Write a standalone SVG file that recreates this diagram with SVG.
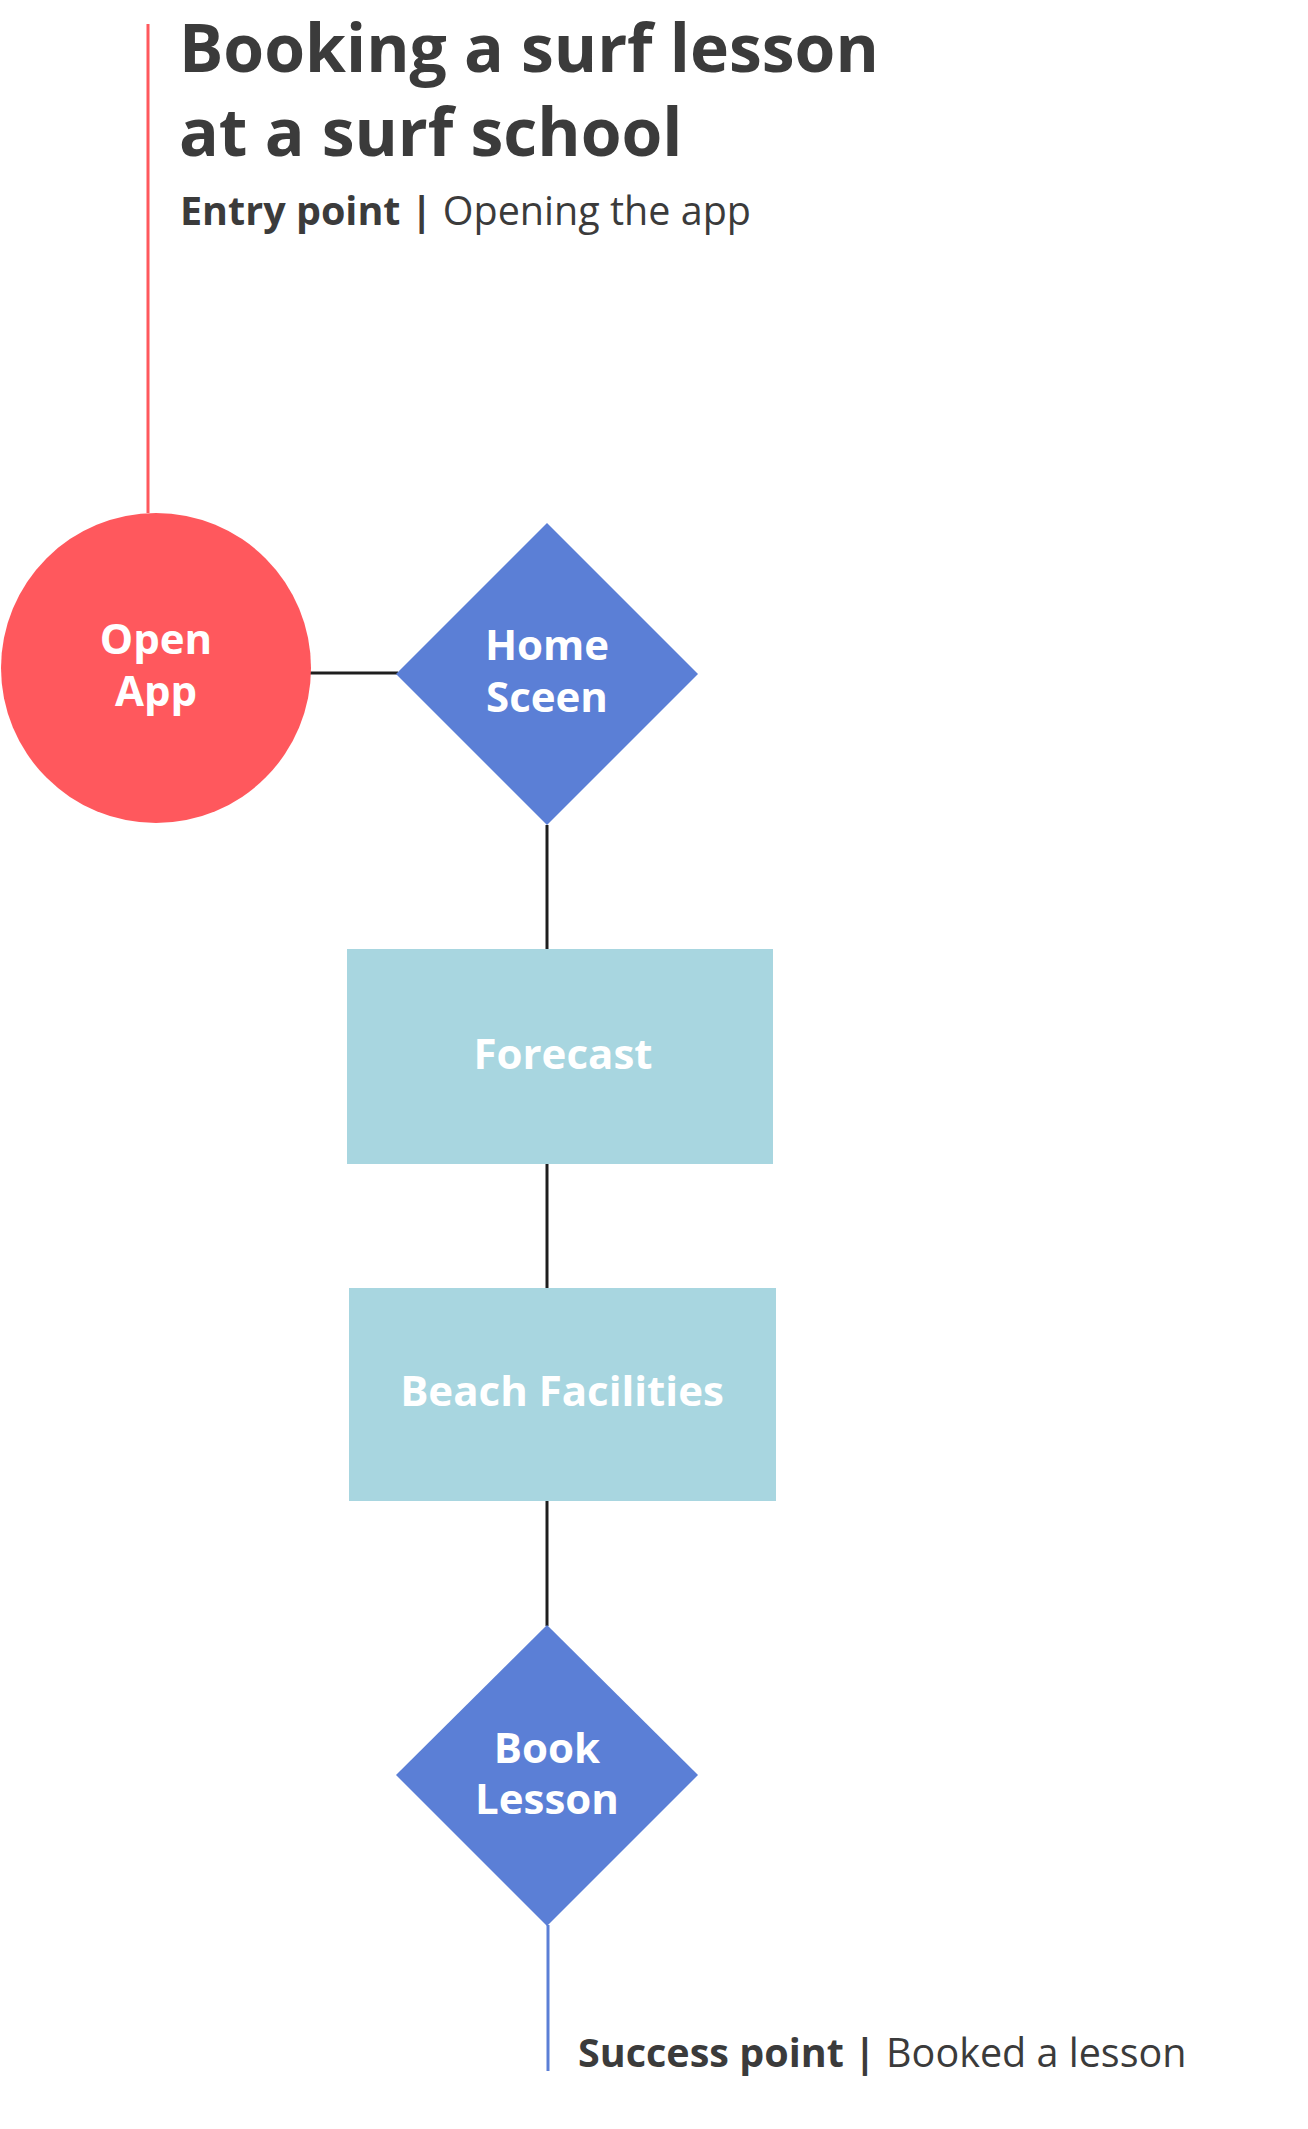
<svg xmlns="http://www.w3.org/2000/svg" width="1308" height="2129" viewBox="0 0 1308 2129">
<style>
.title{font-family:"Open Sans","Liberation Sans",sans-serif;font-weight:700;font-size:66px;fill:#3b3b3b}
.sub{font-family:"Open Sans","Liberation Sans",sans-serif;font-size:39.5px;fill:#3b3b3b}
.b{font-weight:700}
.lbl{font-family:"Open Sans","Liberation Sans",sans-serif;font-weight:700;font-size:42px;fill:#ffffff;text-anchor:middle}
.conn{stroke:#1e1e1e;stroke-width:3;fill:none}
</style>
<rect width="1308" height="2129" fill="#ffffff"/>
<g id="header">
<line x1="148" y1="24" x2="148" y2="513" stroke="#ff585d" stroke-width="3"/>
<text class="title" x="179" y="72">Booking a surf lesson</text>
<text class="title" x="179" y="156">at a surf school</text>
<text class="sub" x="180" y="225"><tspan class="b">Entry point |</tspan> Opening the app</text>
</g>
<g id="connectors">
<line class="conn" x1="310" y1="673" x2="398" y2="673"/>
<line class="conn" x1="547" y1="825" x2="547" y2="949"/>
<line class="conn" x1="547" y1="1164" x2="547" y2="1288"/>
<line class="conn" x1="547" y1="1501" x2="547" y2="1626"/>
<line x1="548" y1="1925" x2="548" y2="2071" stroke="#5b7fd6" stroke-width="3"/>
</g>
<g id="open-app">
<circle cx="156" cy="668" r="155" fill="#ff585d"/>
<text class="lbl" x="156" y="654">Open</text>
<text class="lbl" x="156" y="706">App</text>
</g>
<g id="home-screen">
<polygon points="547,523 698,674 547,825 396,674" fill="#5b7fd6"/>
<text class="lbl" x="547" y="660">Home</text>
<text class="lbl" x="547" y="712">Sceen</text>
</g>
<g id="forecast">
<rect x="347" y="949" width="426" height="215" fill="#a8d6e0"/>
<text class="lbl" x="563" y="1069">Forecast</text>
</g>
<g id="beach-facilities">
<rect x="349" y="1288" width="427" height="213" fill="#a8d6e0"/>
<text class="lbl" x="562" y="1406">Beach Facilities</text>
</g>
<g id="book-lesson">
<polygon points="547,1625 698,1775 547,1926 396,1775" fill="#5b7fd6"/>
<text class="lbl" x="547" y="1763">Book</text>
<text class="lbl" x="547" y="1814">Lesson</text>
</g>
<g id="footer">
<text class="sub" x="578" y="2067"><tspan class="b">Success point |</tspan> Booked a lesson</text>
</g>
</svg>
